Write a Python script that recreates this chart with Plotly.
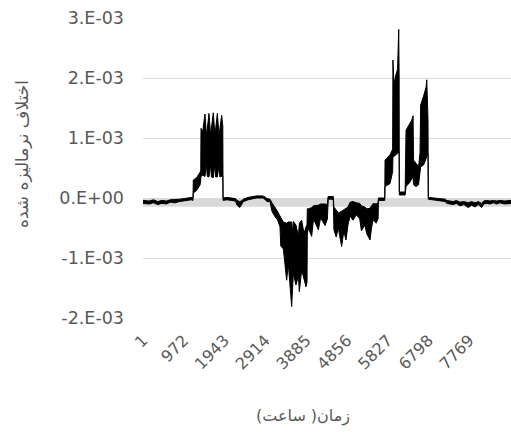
import plotly.graph_objects as go

# Hour index (x) and the lower / upper envelope of the dense hourly signal
hours = [1, 150, 250, 350, 450, 560, 650, 760, 870, 980, 1080, 1150, 1190,
         1198, 1280, 1360, 1375, 1381, 1420, 1476, 1510, 1530, 1571, 1610, 1630,
         1674, 1710, 1730, 1770, 1810, 1830, 1873, 1900, 1906,
         2000, 2100, 2200, 2240, 2300, 2340, 2390, 2500, 2600, 2700, 2850, 2900, 2950,
         3023, 3070, 3140, 3200, 3261, 3280, 3341, 3420, 3460, 3539, 3560, 3579,
         3642, 3700, 3722, 3777, 3833, 3880, 3905, 3912,
         3936, 4015, 4060, 4174, 4230, 4333, 4390, 4405, 4410, 4530, 4545,
         4600, 4650, 4729, 4780, 4832, 4880, 4930, 5000, 5080, 5160,
         5200, 5280, 5330, 5404, 5440, 5480, 5550, 5598, 5604, 5755,
         5762, 5880, 5935, 5943, 5950, 5975, 6020, 6060, 6088, 6098, 6102, 6240,
         6262, 6300, 6350, 6400, 6430, 6440, 6500, 6560, 6595, 6610, 6680, 6740,
         6755, 6785, 6792, 6900, 7050, 7200, 7230, 7300, 7388, 7460, 7546, 7640,
         7745, 7820, 7904, 7980, 8062, 8110, 8181, 8260, 8340, 8420, 8499, 8600, 8760]

lower = [-9e-05, -1.0e-04, -8e-05, -1.1e-04, -9e-05, -1.0e-04, -7e-05, -8e-05, -6e-05, -5e-05, -4e-05, -3e-05, -4e-05,
         8e-05, 1.3e-04, 2.2e-04, 3.0e-04, 3.6e-04, 3.8e-04, 3.6e-04, 5.6e-04, 3.6e-04, 3.5e-04, 5.5e-04, 3.5e-04,
         3.4e-04, 5.6e-04, 3.5e-04, 3.5e-04, 5.4e-04, 3.5e-04, 3.6e-04, 3.7e-04, -4e-05,
         -3e-05, -4e-05, -5e-05, -1.2e-04, -1.6e-04, -1.2e-04, -6e-05, -3e-05, -1e-05, 0.0, 0.0, -2e-05, -6e-05,
         -6e-05, -2.2e-04, -3.1e-04, -3.6e-04, -4.8e-04, -8.0e-04, -8.5e-04, -1.37e-03, -1.10e-03, -1.81e-03, -1.30e-03, -1.26e-03,
         -1.45e-03, -1.30e-03, -1.56e-03, -1.20e-03, -1.35e-03, -1.48e-03, -1.40e-03, -6.0e-04,
         -5.0e-04, -6.4e-04, -3.5e-04, -5.3e-04, -3.3e-04, -4.6e-04, -3.5e-04, -3e-05, -2e-05, -2e-05, -5.3e-04,
         -6.5e-04, -5.0e-04, -8.1e-04, -5.5e-04, -7.0e-04, -4.5e-04, -3.0e-04, -3.7e-04, -2.8e-04, -3.5e-04,
         -5.5e-04, -4.5e-04, -6.0e-04, -7.0e-04, -5.0e-04, -3.6e-04, -4.2e-04, -3.4e-04, -4e-05, -4e-05,
         1.9e-04, 2.4e-04, 4.1e-04, 4.3e-04, 6.8e-04, 7.0e-04, 7.2e-04, 7.4e-04, 7.6e-04, 7.6e-04, 5e-05, 5e-05,
         1.9e-04, 2.2e-04, 2.6e-04, 3.2e-04, 3.5e-04, 2.2e-04, 1.9e-04, 2.2e-04, 4.5e-04, 5.2e-04, 5.5e-04, 6.5e-04,
         7.0e-04, 7.4e-04, -2e-05, -3e-05, -4e-05, -6e-05, -9e-05, -1.0e-04, -1.1e-04, -9e-05, -1.3e-04, -1.1e-04,
         -1.6e-04, -1.2e-04, -1.5e-04, -1.1e-04, -1.6e-04, -1.0e-04, -9e-05, -1.0e-04, -8e-05, -1.0e-04, -8e-05, -1.0e-04, -9e-05]

upper = [-4e-05, -5e-05, -3e-05, -6e-05, -4e-05, -5e-05, -3e-05, -3e-05, -2e-05, -1e-05, 0.0, 1e-05, 0.0,
         3.0e-04, 3.4e-04, 4.2e-04, 4.5e-04, 1.16e-03, 1.10e-03, 1.40e-03, 1.05e-03, 1.15e-03, 1.41e-03, 1.05e-03, 1.15e-03,
         1.42e-03, 1.08e-03, 1.15e-03, 1.41e-03, 1.05e-03, 1.15e-03, 1.38e-03, 1.20e-03, 0.0,
         1e-05, 0.0, -1e-05, -4e-05, -6e-05, -5e-05, -2e-05, 1e-05, 2e-05, 3.5e-05, 3.5e-05, 2e-05, -1e-05,
         -2e-05, -8e-05, -1.5e-04, -2.2e-04, -3.0e-04, -3.2e-04, -4.0e-04, -4.2e-04, -4.0e-04, -4.0e-04, -5.8e-04, -3.9e-04,
         -4.5e-04, -6.4e-04, -4.2e-04, -3.7e-04, -5.9e-04, -4.8e-04, -4.5e-04, -1.8e-04,
         -1.8e-04, -1.6e-04, -1.3e-04, -1.2e-04, -1.0e-04, -1.0e-04, -1.1e-04, 2e-05, 2.5e-05, 2.5e-05, -1.5e-04,
         -2.0e-04, -2.5e-04, -2.2e-04, -2.0e-04, -1.8e-04, -1.5e-04, -7e-05, -6e-05, -8e-05, -9e-05,
         -1.3e-04, -1.5e-04, -1.8e-04, -1.7e-04, -1.3e-04, -9e-05, -1.0e-04, -8e-05, 0.0, 0.0,
         6.3e-04, 7.2e-04, 8.0e-04, 8.2e-04, 2.30e-03, 1.90e-03, 2.05e-03, 2.15e-03, 2.81e-03, 2.0e-03, 1.0e-04, 1.0e-04,
         1.13e-03, 1.18e-03, 1.25e-03, 1.30e-03, 1.37e-03, 6.3e-04, 5.8e-04, 5.2e-04, 7.5e-04, 1.55e-03, 1.70e-03, 1.85e-03,
         1.97e-03, 1.30e-03, 1e-05, 0.0, -1e-05, -2e-05, -4e-05, -5e-05, -6e-05, -4e-05, -7e-05, -6e-05,
         -8e-05, -6e-05, -8e-05, -6e-05, -9e-05, -5e-05, -4e-05, -5e-05, -4e-05, -5e-05, -4e-05, -5e-05, -4e-05]

x_tick_vals = [1, 972, 1943, 2914, 3885, 4856, 5827, 6798, 7769]
x_tick_text = ["1", "972", "1943", "2914", "3885", "4856", "5827", "6798", "7769"]
y_tick_vals = [-0.002, -0.001, 0.0, 0.001, 0.002, 0.003]
y_tick_text = ["-2.E-03", "-1.E-03", "0.E+00", "1.E-03", "2.E-03", "3.E-03"]
band_value = -1.45e-04

x_title = "زمان( ساعت)\u200F"
y_title = "اختلاف نرمالیزه شده"

text_color = "#595959"
grid_color = "#d9d9d9"
font_family = "DejaVu Sans"

fig = go.Figure()
fig.add_trace(go.Scatter(x=hours, y=lower, mode="lines",
                         line=dict(color="black", width=1), hoverinfo="skip",
                         showlegend=False))
fig.add_trace(go.Scatter(x=hours, y=upper, mode="lines", fill="tonexty",
                         fillcolor="black", line=dict(color="black", width=1),
                         hoverinfo="skip", showlegend=False))

fig.add_shape(type="rect", xref="paper", yref="y", x0=0, x1=1, y0=band_value, y1=0,
              fillcolor=grid_color, line=dict(width=0), layer="between")

fig.update_layout(
    width=511, height=432,
    margin=dict(l=143, r=0, t=18, b=114, autoexpand=False),
    paper_bgcolor="white", plot_bgcolor="white",
    font=dict(family=font_family, color=text_color, size=17),
    xaxis=dict(range=[0.5, 8760.5], tickvals=x_tick_vals, ticktext=x_tick_text,
               tickangle=-45, showgrid=False, zeroline=False, showline=False,
               ticks="", ticklabelstandoff=9, automargin=False,
               tickfont=dict(family=font_family, size=16, color=text_color)),
    yaxis=dict(range=[-0.002, 0.003], tickvals=y_tick_vals, ticktext=y_tick_text,
               showgrid=True, gridcolor=grid_color, gridwidth=1, zeroline=False,
               showline=False, ticks="", ticklabelstandoff=18, automargin=False,
               tickfont=dict(family=font_family, size=17.5, color=text_color)),
    annotations=[
        dict(text=x_title, xref="paper", yref="paper", x=(303 - 143) / 368,
             y=(318 - 416) / 300, xanchor="center", yanchor="middle",
             showarrow=False, font=dict(family=font_family, size=16, color=text_color)),
        dict(text=y_title, xref="paper", yref="paper", x=(22 - 143) / 368,
             y=(318 - 154) / 300, xanchor="center", yanchor="middle", textangle=-90,
             showarrow=False, font=dict(family=font_family, size=17, color=text_color)),
    ],
)

fig.write_html("out.html", config={"displayModeBar": False},
               post_script="document.body.style.margin='0';document.body.style.overflow='hidden';")
